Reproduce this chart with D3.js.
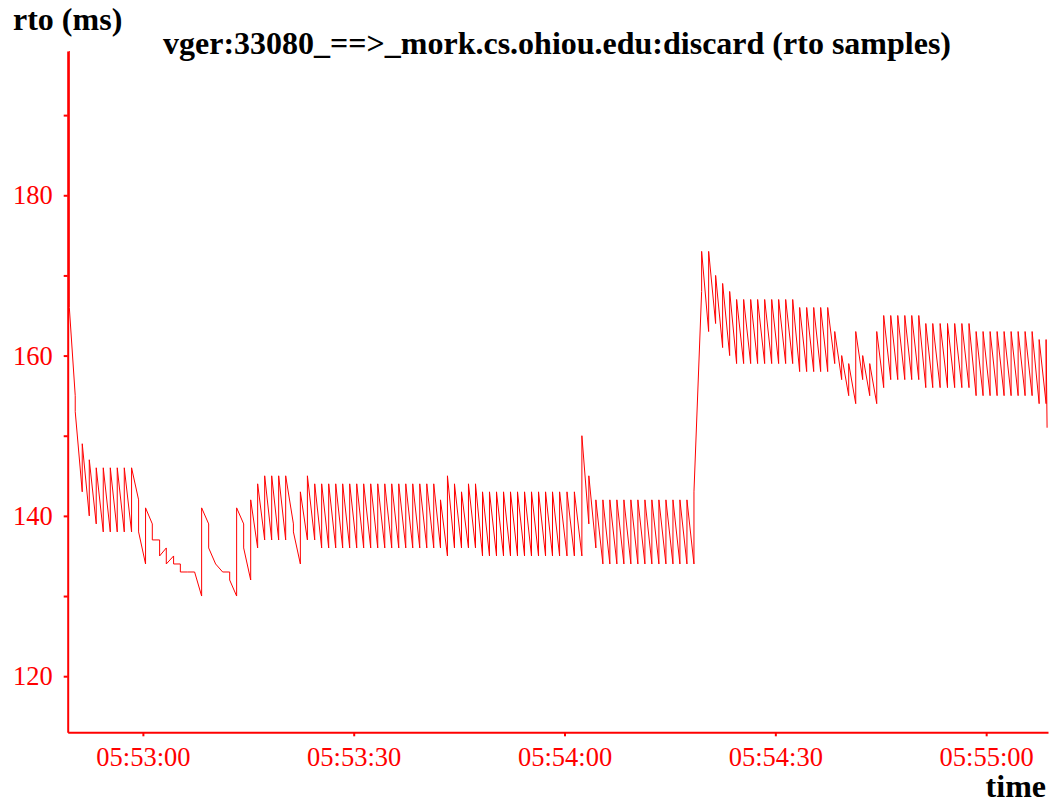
<!DOCTYPE html>
<html>
<head>
<meta charset="utf-8">
<script src="https://cdn.jsdelivr.net/npm/d3@7"></script>
<style>
  body { margin: 0; background: #fff; }
  text { font-family: "Liberation Serif", "Times New Roman", serif; }
</style>
</head>
<body>
<div id="chart"></div>
<script>
// seconds relative to 05:53:00, and the rto (ms) before/after each sample
const sampleSec = [
  -10.47, -9.63, -8.63, -7.63, -6.64, -5.64, -4.64, -3.65, -2.65, -1.61,
  -0.61, 0.38, 1.34, 2.38, 3.33, 4.37, 5.33, 6.32, 7.36, 8.36,
  9.36, 10.35, 11.35, 12.35, 13.34, 14.34, 15.34, 16.33, 17.33, 18.33,
  19.32, 20.32, 21.42, 22.41, 23.41, 24.45, 25.44, 26.44, 27.44, 28.43,
  29.43, 30.43, 31.42, 32.42, 33.42, 34.42, 35.41, 36.41, 37.41, 38.40,
  39.40, 40.40, 41.39, 42.35, 43.34, 44.34, 45.34, 46.33, 47.33, 48.33,
  49.32, 50.32, 51.32, 52.31, 53.31, 54.31, 55.30, 56.30, 57.30, 58.29,
  59.30, 60.35, 61.40, 62.47, 63.46, 64.46, 65.46, 66.45, 67.45, 68.45,
  69.44, 70.44, 71.44, 72.43, 73.43, 74.43, 75.43, 76.42, 77.42, 78.42,
  79.51, 80.51, 81.50, 82.50, 83.50, 84.49, 85.49, 86.49, 87.48, 88.48,
  89.48, 90.47, 91.47, 92.47, 93.46, 94.46, 95.46, 96.45, 97.45, 98.45,
  99.44, 100.44, 101.44, 102.43, 103.43, 104.43, 105.42, 106.42, 107.42, 108.42,
  109.41, 110.41, 111.41, 112.40, 113.45, 114.50, 115.52, 116.54, 117.56, 118.57,
  119.56, 120.56, 121.56, 122.55, 123.55, 124.55, 125.54, 126.54, 127.54, 128.53,
  128.67
];
const rtoFrom = [
  198, 155, 143, 140, 139, 138, 138, 138, 138, 138,
  142, 134, 139, 137, 136, 135, 134, 133, 133, 130,
  139, 134, 133, 133, 130, 139, 132, 136, 137, 137,
  137, 137, 139, 134, 137, 137, 136, 136, 136, 136,
  136, 136, 136, 136, 136, 136, 136, 136, 136, 136,
  136, 136, 136, 136, 135, 136, 136, 136, 136, 135,
  135, 135, 135, 135, 135, 135, 135, 135, 135, 135,
  135, 135, 135, 135, 139, 136, 134, 134, 134, 134,
  134, 134, 134, 134, 134, 134, 134, 134, 134, 134,
  168, 163, 164, 161, 160, 159, 159, 159, 159, 159,
  159, 159, 159, 159, 158, 158, 158, 158, 158, 159,
  157, 155, 154, 157, 155, 154, 156, 157, 157, 157,
  157, 157, 156, 156, 156, 156, 156, 156, 156, 155,
  155, 155, 155, 155, 155, 155, 155, 155, 154, 154,
  151
];
const rtoTo = [
  166, 153, 149, 147, 146, 146, 146, 146, 146, 146,
  138, 141, 137, 135, 134, 134, 133, 133, 133, 141,
  136, 134, 133, 132, 141, 136, 142, 144, 145, 145,
  145, 145, 138, 143, 145, 144, 144, 144, 144, 144,
  144, 144, 144, 144, 144, 144, 144, 144, 144, 144,
  144, 144, 144, 142, 145, 144, 143, 144, 144, 143,
  143, 143, 143, 143, 143, 143, 143, 143, 143, 143,
  143, 143, 143, 150, 145, 142, 142, 142, 142, 142,
  142, 142, 142, 142, 142, 142, 142, 142, 142, 143,
  173, 173, 170, 169, 168, 167, 167, 167, 167, 167,
  167, 167, 167, 167, 166, 166, 166, 166, 166, 163,
  160, 159, 163, 160, 159, 163, 165, 165, 165, 165,
  165, 165, 164, 164, 164, 164, 164, 164, 164, 163,
  163, 163, 163, 163, 163, 163, 163, 163, 162, 162,
  151
];
const yTicks = [120, 130, 140, 150, 160, 170, 180, 190];
const yLabels = [120, 140, 160, 180];

const width = 1054;
const height = 804;

const svg = d3.select("#chart")
  .append("svg")
  .attr("width", width)
  .attr("height", height);

const t0 = Date.UTC(2000, 0, 1, 5, 53, 0);
const toDate = s => new Date(t0 + s * 1000);

const x = d3.scaleUtc()
  .domain([toDate(-10.7), toDate(128.8)])
  .range([67.7, 1048]);

const y = d3.scaleLinear()
  .domain([113, 198])
  .range([732.3, 51]);

// two points per sample: the value before and after it
const points = [];
sampleSec.forEach((s, i) => {
  points.push([s, rtoFrom[i]]);
  points.push([s, rtoTo[i]]);
});

svg.append("path")
  .datum(points)
  .attr("fill", "none")
  .attr("stroke", "#ff0000")
  .attr("stroke-width", 1)
  .attr("d", d3.line()
    .x(d => x(toDate(d[0])))
    .y(d => y(d[1])));

const yAxis = svg.append("g")
  .attr("transform", "translate(67.7,0)")
  .call(d3.axisLeft(y)
    .tickValues(yTicks)
    .tickSize(4)
    .tickSizeOuter(0)
    .tickPadding(11)
    .tickFormat(d => yLabels.includes(d) ? d : ""));

const xAxis = svg.append("g")
  .attr("transform", "translate(0,732.3)")
  .call(d3.axisBottom(x)
    .ticks(d3.utcSecond.every(30))
    .tickSize(4)
    .tickSizeOuter(0)
    .tickPadding(11)
    .tickFormat(d3.utcFormat("%H:%M:%S")));

[yAxis, xAxis].forEach(g => {
  g.select(".domain").attr("stroke", "#ff0000").attr("stroke-width", 2);
  g.selectAll(".tick line").attr("stroke", "#ff0000").attr("stroke-width", 2);
  g.selectAll(".tick text")
    .attr("fill", "#ff0000")
    .style("font-family", "'Liberation Serif', serif")
    .style("font-size", "26.5px");
});

svg.append("text")
  .attr("x", 557)
  .attr("y", 54)
  .attr("text-anchor", "middle")
  .style("font-weight", "bold")
  .style("font-size", "32px")
  .text("vger:33080_==>_mork.cs.ohiou.edu:discard (rto samples)");

svg.append("text")
  .attr("x", 13)
  .attr("y", 30)
  .style("font-weight", "bold")
  .style("font-size", "32px")
  .text("rto (ms)");

svg.append("text")
  .attr("x", 1046)
  .attr("y", 797)
  .attr("text-anchor", "end")
  .style("font-weight", "bold")
  .style("font-size", "32px")
  .text("time");
</script>
</body>
</html>
